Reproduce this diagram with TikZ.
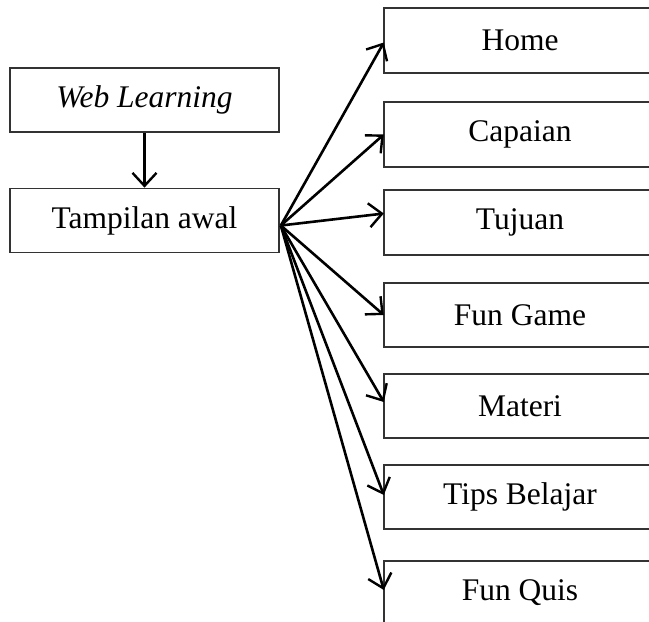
\documentclass[tikz,border=0pt]{standalone}
\usepackage{fontspec}
\setmainfont{Liberation Serif}
\usetikzlibrary{arrows.meta,calc}
\begin{document}
\begin{tikzpicture}[x=1pt,y=-1pt,
  boxline/.style={draw=black!80,line width=1.7pt},
  box/.style={minimum height=64pt,inner sep=0pt,
    font=\fontsize{31.5}{36}\selectfont},
  lbox/.style={box,boxline,minimum width=269pt},
  rbox/.style={box,minimum width=272pt},
  arr/.style={line width=2.6pt,-{Straight Barb[length=13pt,width=24pt,line width=2.4pt]}}]
\useasboundingbox (0,0) rectangle (649,622);
\clip (0,0) rectangle (649,622);
\node[lbox] (web) at (144.5,100) {\itshape Web Learning};
\node[lbox] (tamp) at (144.5,220.5) {Tampilan awal};
\node[rbox] (home) at (520,40.5) {Home};
\node[rbox] (cap) at (520,134.5) {Capaian};
\node[rbox] (tuj) at (520,222.5) {Tujuan};
\node[rbox] (fg) at (520,315) {Fun Game};
\node[rbox] (mat) at (520,406) {Materi};
\node[rbox] (tips) at (520,497) {Tips Belajar};
\node[rbox] (fq) at (520,593) {Fun Quis};
\foreach \n in {home,cap,tuj,fg,mat,tips,fq}
  \draw[boxline] (\n.north west) rectangle ([xshift=40pt]\n.south east);
\coordinate (src) at ($(tamp.east)+(1,5)$);
\draw[arr] (web.south) -- (tamp.north);
\draw[arr] (src) -- ($(home.west)+(0,2)$);
\draw[arr] (src) -- (cap.west);
\draw[arr] (src) -- ($(tuj.west)+(0,-9)$);
\draw[arr] (src) -- (fg.west);
\draw[arr] (src) -- ($(mat.west)+(0,-4)$);
\draw[arr] (src) -- ($(tips.west)+(0,-2)$);
\draw[arr] (src) -- ($(fq.west)+(0,-3)$);
\end{tikzpicture}
\end{document}
